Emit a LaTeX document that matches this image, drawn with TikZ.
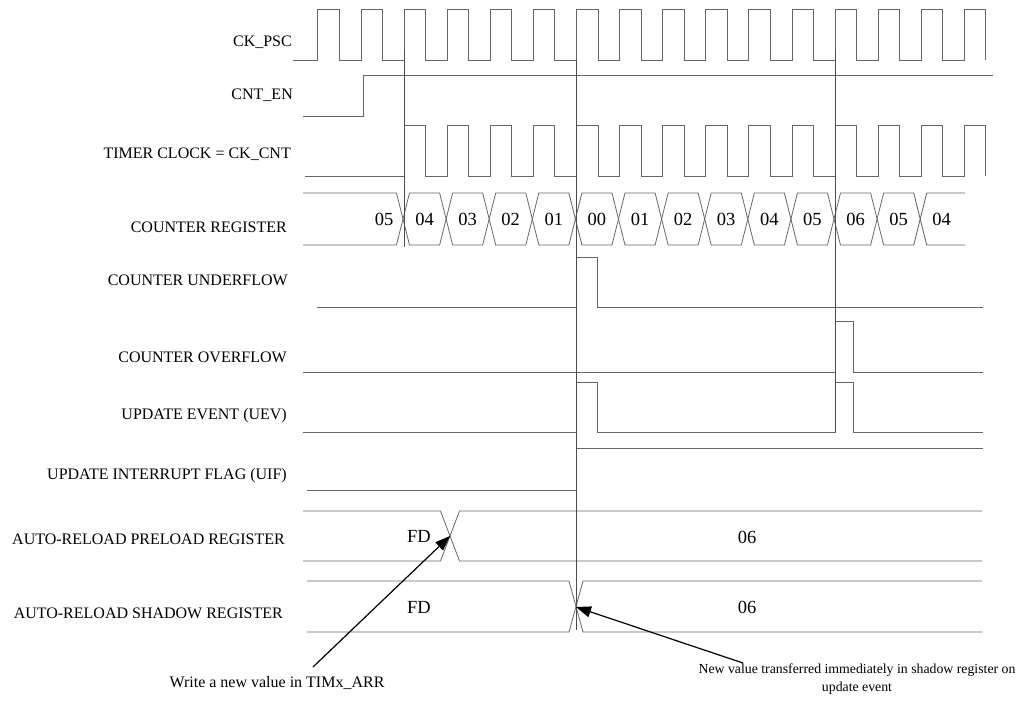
\documentclass[tikz,border=0pt]{standalone}
\usepackage{fontspec}
\setmainfont{Liberation Serif}
\usepackage{tikz}
\usetikzlibrary{arrows.meta}
\tikzset{
    wave-line/.style = {draw=black!60, line width=0.8pt},
    marker-line/.style = {draw=black!70, line width=0.7pt},
    sig-label/.style = {anchor=east, inner sep=0pt, font=\fontsize{16}{18}\selectfont},
    bus-value/.style = {inner sep=0pt, font=\fontsize{18.5}{20}\selectfont},
    note-text/.style = {inner sep=0pt, align=center, font=\fontsize{16}{18}\selectfont},
    note-arrow/.style = {draw=black, line width=1.2pt, -{Triangle[length=15pt,width=11pt]}},
}

\begin{document}
\begin{tikzpicture}[x=1pt, y=-1pt]
\useasboundingbox (0,0) rectangle (1019,704);

\node[sig-label] (ck-psc) at (292,42) {CK\_PSC};
\node[sig-label] (cnt-en) at (293,95) {CNT\_EN};
\node[sig-label] (ck-cnt) at (291,154) {TIMER CLOCK = CK\_CNT};
\node[sig-label] (cnt-reg) at (287,227) {COUNTER REGISTER};
\node[sig-label] (cnt-udf) at (288,280) {COUNTER UNDERFLOW};
\node[sig-label] (cnt-ovf) at (287,357) {COUNTER OVERFLOW};
\node[sig-label] (uev) at (287,416) {UPDATE EVENT (UEV)};
\node[sig-label] (uif) at (287,476) {UPDATE INTERRUPT FLAG (UIF)};
\node[sig-label] (arr-pre) at (285,539) {AUTO-RELOAD PRELOAD REGISTER};
\node[sig-label] (arr-sh) at (283,613) {AUTO-RELOAD SHADOW REGISTER};

\draw[wave-line] (293,60) \foreach \k in {-2,...,13} { -- ({404+43.1*\k},60) -- ++(0,-51) -- ++(21.5,0) -- ++(0,51) };
\draw[wave-line] (303,116) -- (363,116) -- (363,75) -- (993,75);
\draw[wave-line] (305,176) \foreach \k in {0,...,13} { -- ({404+43.1*\k},176) -- ++(0,-51) -- ++(21.5,0) -- ++(0,51) };

\draw[wave-line] (303,193) -- (396.5,193) -- (403,219) -- (396.5,245) -- (303,245);
\node[bus-value] (cnt-first) at (384,219) {05};
\foreach \v [count=\k from 0] in {04,03,02,01,00,01,02,03,04,05,06,05,04} {
    \node[bus-value] (cnt\k) at ({424.5+43.1*\k},219) {\v};
}
\foreach \k in {0,...,11}
    \draw[wave-line] ({403+43.1*\k},219) -- ++(6.5,-26) -- ++(30.1,0) -- ++(6.5,26) -- ++(-6.5,26) -- ++(-30.1,0) -- cycle;
\draw[wave-line] (965,193) -- (926.7,193) -- (920.2,219) -- (926.7,245) -- (965,245);

\draw[wave-line] (317,307) -- (576,307) -- (576,257) -- (597,257) -- (597,307) -- (983,307);
\draw[wave-line] (303,372) -- (835,372) -- (835,321) -- (853,321) -- (853,372) -- (983,372);
\draw[wave-line] (303,432) -- (576,432) -- (576,382) -- (597,382) -- (597,432) -- (835,432)
    -- (835,382) -- (853,382) -- (853,432) -- (983,432);
\draw[wave-line] (307,490) -- (576,490) -- (576,448) -- (983,448);

\draw[wave-line] (303,511) -- (440.5,511) -- (459.5,561) -- (982,561);
\draw[wave-line] (303,561) -- (440.5,561) -- (459.5,511) -- (982,511);
\node[bus-value] (pre-old) at (419,536) {FD};
\node[bus-value] (pre-new) at (747,537) {06};

\draw[wave-line] (307,581) -- (569,581) -- (583,632) -- (982,632);
\draw[wave-line] (307,632) -- (569,632) -- (583,581) -- (982,581);
\node[bus-value] (sh-old) at (419,607) {FD};
\node[bus-value] (sh-new) at (747,607) {06};

\draw[marker-line] (404,49) -- (404,247);
\draw[marker-line] (576,60) -- (576,630);
\draw[marker-line] (835,49) -- (835,432);

\node[note-text] (write-note) at (277,683) {Write a new value in TIMx\_ARR};
\node[note-text, font=\fontsize{13.8}{18}\selectfont] (shadow-note) at (857,679) {New value transferred immediately in shadow register on\\update event};
\coordinate (write-from) at (313,667);
\coordinate (shadow-from) at (743,663);
\coordinate (pre-cross) at (450,536);
\coordinate (sh-cross) at (576,607);
\draw[note-arrow] (write-from) -- (pre-cross);
\draw[note-arrow] (shadow-from) -- (sh-cross);
\end{tikzpicture}
\end{document}
